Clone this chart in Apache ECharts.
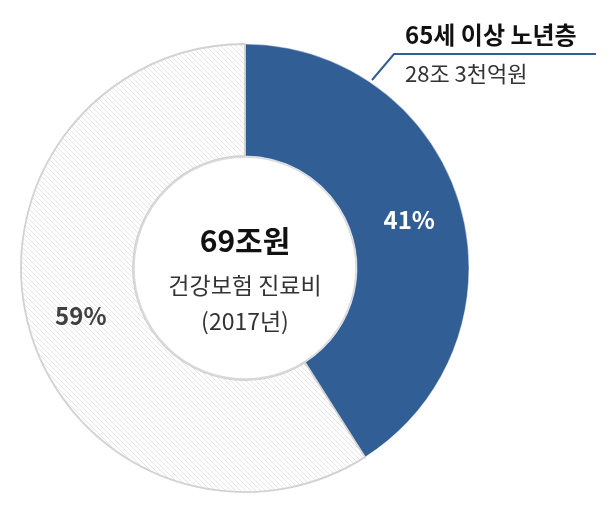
<!DOCTYPE html>
<html><head><meta charset="utf-8">
<script src="https://cdn.jsdelivr.net/npm/echarts@6/dist/echarts.min.js"></script>
<style>html,body{margin:0;padding:0;background:#fff}#c{width:612px;height:508px}</style>
</head><body><div id="c"></div>
<script>
var categories = ['65세 이상 노년층', '기타'];
var values = [41, 59];
var centerTitle = '69조원';
var centerSub1 = '건강보험 진료비';
var centerSub2 = '(2017년)';
var annotTitle = '65세 이상 노년층';
var annotSub = '28조 3천억원';

var pc = document.createElement('canvas');
pc.width = 5; pc.height = 5;
var g = pc.getContext('2d');
g.fillStyle = '#ffffff'; g.fillRect(0,0,5,5);
g.strokeStyle = '#e6e6e6'; g.lineWidth = 1;
g.beginPath();
g.moveTo(-1,-1); g.lineTo(6,6);
g.moveTo(-1,4); g.lineTo(1,6);
g.moveTo(4,-1); g.lineTo(6,1);
g.stroke();

var font = '"Noto Sans CJK KR", "Noto Sans", sans-serif';
var chart = echarts.init(document.getElementById('c'));
chart.setOption({
  backgroundColor: '#fff',
  animation: false,
  series: [
    {
      type: 'pie', center: [245, 268], radius: [112, 224], startAngle: 90, clockwise: true,
      silent: true,
      label: { position: 'inside', formatter: function(p){ return p.value + '%'; }, fontFamily: font, fontSize: 24, fontWeight: 'bold' },
      labelLine: { show: false },
      data: [
        { name: categories[0], value: values[0], itemStyle: { color: '#315E94', borderColor: '#ffffff', borderWidth: 0.5 }, label: { color: '#ffffff' } },
        { name: categories[1], value: values[1], itemStyle: { color: { image: pc, repeat: 'repeat' }, borderColor: '#d2d2d2', borderWidth: 1.8 }, label: { color: '#404040' } }
      ]
    },
    {
      type: 'pie', center: [245, 268], radius: [0, 111], silent: true,
      itemStyle: { color: '#ffffff', borderColor: '#dadada', borderWidth: 1.5 },
      label: {
        position: 'center', fontFamily: font, padding: [18, 0, 0, 0],
        formatter: '{t|' + centerTitle + '}\n{s|' + centerSub1 + '}\n{s|' + centerSub2 + '}',
        rich: {
          t: { fontSize: 30, fontWeight: 'bold', color: '#111', lineHeight: 52, fontFamily: font },
          s: { fontSize: 23, color: '#333', lineHeight: 36, fontFamily: font }
        }
      },
      labelLine: { show: false },
      data: [{ name: 'total', value: 1 }]
    }
  ],
  graphic: [
    { type: 'polyline', shape: { points: [[372, 80], [394, 54], [596, 54]] }, style: { stroke: '#315E94', lineWidth: 2, fill: null } },
    { type: 'text', style: { x: 405, y: 35, text: annotTitle, font: 'bold 24px ' + font, fill: '#111', verticalAlign: 'middle' } },
    { type: 'text', style: { x: 405, y: 74, text: annotSub, font: '22px ' + font, fill: '#333', verticalAlign: 'middle' } }
  ]
});
</script></body></html>
